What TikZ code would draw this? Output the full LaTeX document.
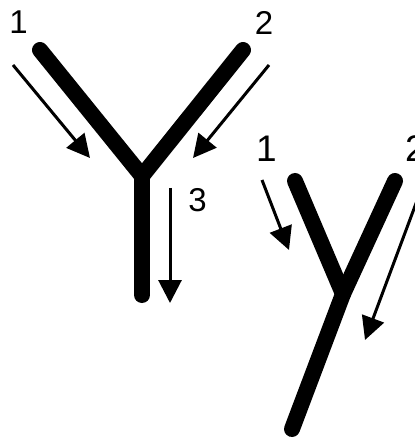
\documentclass[tikz,border=0pt]{standalone}
\usepackage{fontspec}
\setmainfont{Liberation Sans}
\usetikzlibrary{arrows.meta}

\begin{document}
\begin{tikzpicture}[x=1pt,y=-1pt]
    \tikzset{
        ab/.style={line width=16pt, line cap=round, line join=round},
        flow/.style={line width=3pt, -{Triangle[length=23pt,width=23pt]}},
        num/.style={inner sep=0pt, font=\fontsize{33}{33}\selectfont},
        bignum/.style={inner sep=0pt, font=\fontsize{37}{37}\selectfont}
    }
    \useasboundingbox (0,0) rectangle (414,438);

    % upright Y
    \coordinate (la) at (40,50);
    \coordinate (ra) at (243,50);
    \coordinate (j) at (142,176);
    \coordinate (st) at (142,295);
    \draw[ab] (la) -- (j) -- (ra);
    \draw[ab] (j) -- (st);

    % tilted Y
    \coordinate (tla) at (295,181);
    \coordinate (tra) at (395,181);
    \coordinate (tj) at (343,294);
    \coordinate (tst) at (292,429);
    \draw[ab] (tla) -- (tj);
    \draw[ab] (tra) -- (tj) -- (tst);

    % arrows
    \coordinate (a1s) at (13,65);   \coordinate (a1e) at (90,158);
    \coordinate (a2s) at (269,65);  \coordinate (a2e) at (193,158);
    \coordinate (a3s) at (170,188); \coordinate (a3e) at (170,303);
    \coordinate (b1s) at (262,180); \coordinate (b1e) at (289,250);
    \coordinate (b2s) at (421,190); \coordinate (b2e) at (365,340);
    \draw[flow] (a1s) -- (a1e);
    \draw[flow] (a2s) -- (a2e);
    \draw[flow] (a3s) -- (a3e);
    \draw[flow] (b1s) -- (b1e);
    \draw[flow] (b2s) -- (b2e);

    % labels
    \node[num] (n1) at (18.5,22) {1};
    \node[num] (n2) at (264,22.5) {2};
    \node[num] (n3) at (197.5,200.5) {3};
    \node[bignum] (m1) at (266.5,148.5) {1};
    \node[bignum] (m2) at (415.5,148.5) {2};
\end{tikzpicture}
\end{document}
